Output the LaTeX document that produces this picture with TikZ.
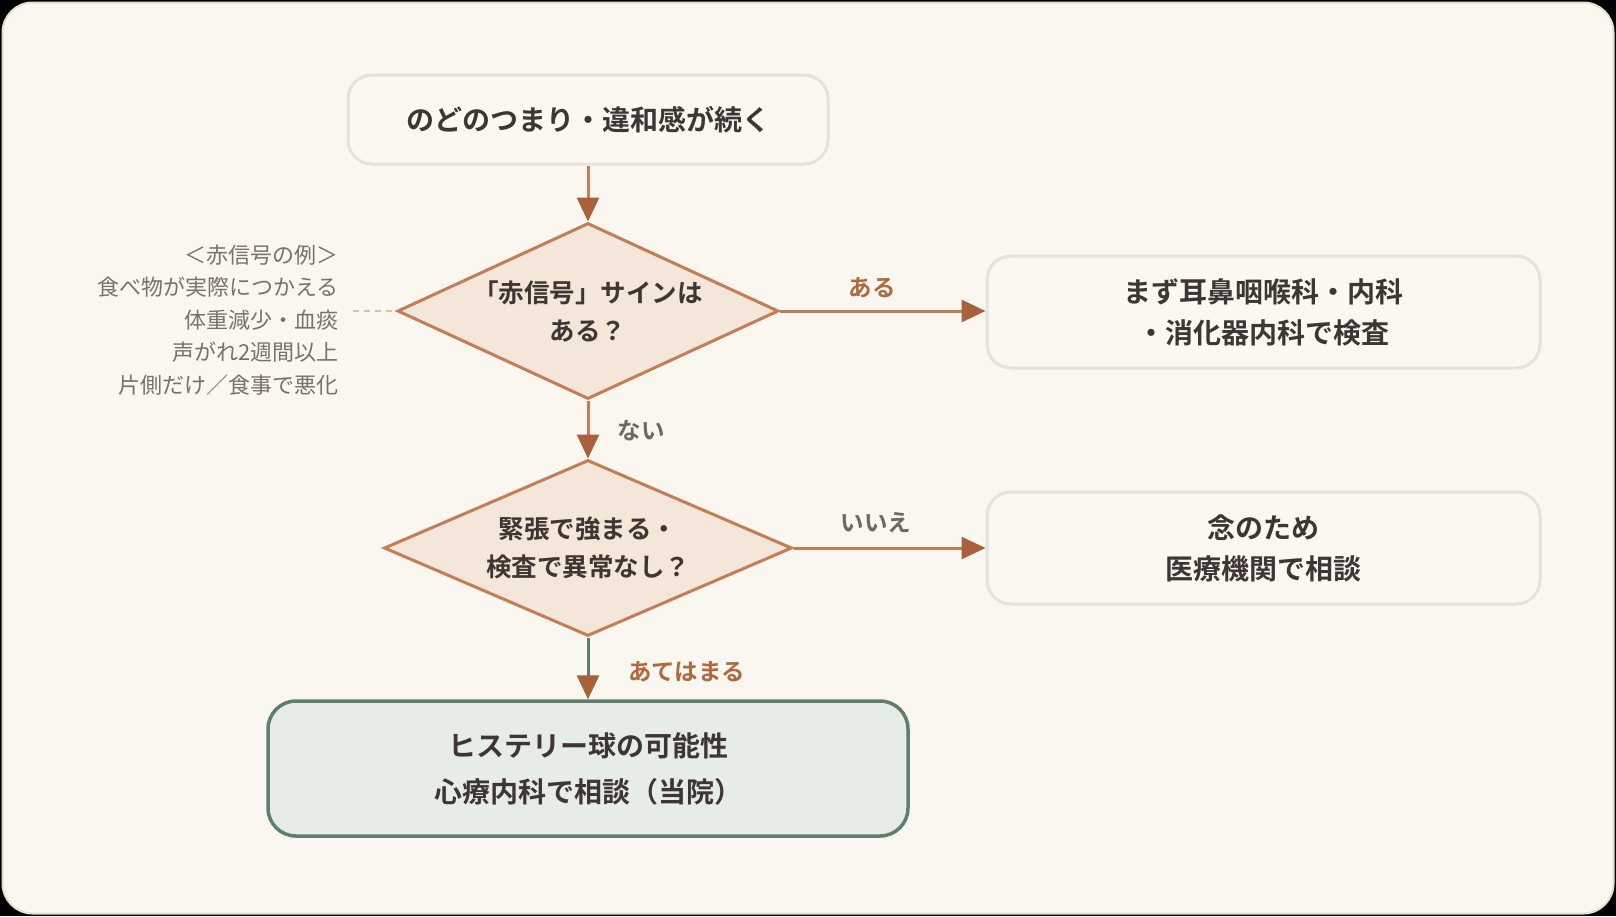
\documentclass[tikz,border=0pt]{standalone}
\usepackage{fontspec}
\setmainfont{Noto Sans CJK JP}[BoldFont={Noto Sans CJK JP Bold}]
\usetikzlibrary{shapes.geometric,arrows.meta}
\definecolor{bgc}{HTML}{FAF7F0}
\definecolor{framec}{HTML}{E8DFD0}
\definecolor{boxfill}{HTML}{FBF8F2}
\definecolor{boxline}{HTML}{EAE1D3}
\definecolor{diafill}{HTML}{F4E6D8}
\definecolor{dialine}{HTML}{C47D55}
\definecolor{linec}{HTML}{C47D55}
\definecolor{headc}{HTML}{A8613A}
\definecolor{greenfill}{HTML}{E6ECE6}
\definecolor{greenline}{HTML}{5F7E70}
\definecolor{txtc}{HTML}{3E3632}
\definecolor{grayc}{HTML}{6F6760}
\definecolor{brownc}{HTML}{B0683F}
\definecolor{notec}{HTML}{7A7169}
\definecolor{dashc}{HTML}{D5C2A8}
\tikzset{
  boxnode/.style={draw=boxline, line width=3pt, fill=boxfill, rounded corners=24pt,
    inner sep=0pt, align=center, text=txtc, font=\bfseries\fontsize{28}{41}\selectfont},
  dianode/.style={diamond, draw=dialine, fill=diafill, line width=3pt, inner sep=0pt,
    align=center, text=txtc, font=\bfseries\fontsize{25.5}{38}\selectfont},
  arr/.style={draw=linec, line width=3pt, -{Triangle[length=24pt,width=22pt,color=headc]}},
  lbl/.style={font=\bfseries\fontsize{23.5}{27}\selectfont, inner sep=0pt},
}
\begin{document}
\begin{tikzpicture}[x=1pt,y=-1pt]
\fill[black] (0,0) rectangle (1616,916);
\useasboundingbox (0,0) rectangle (1616,916);
\draw[framec, line width=2pt, fill=bgc, rounded corners=30pt] (2.5,2.5) rectangle (1613.5,913.5);

\node[boxnode, minimum width=480pt, minimum height=89pt] (top) at (588,119.5) {のどのつまり・違和感が続く};
\node[dianode, minimum width=381pt, minimum height=176pt, aspect=2.16] (d1) at (588,311) {「赤信号」サインは\\ある？};
\node[boxnode, minimum width=553pt, minimum height=112pt] (r1) at (1263.5,312) {まず耳鼻咽喉科・内科\\・消化器内科で検査};
\node[dianode, minimum width=408pt, minimum height=176pt, aspect=2.32] (d2) at (588,548) {緊張で強まる・\\検査で異常なし？};
\node[boxnode, minimum width=553pt, minimum height=112pt] (r2) at (1263.5,548) {念のため\\医療機関で相談};
\node[boxnode, draw=greenline, fill=greenfill, line width=3.5pt, rounded corners=28pt,
  minimum width=640pt, minimum height=135pt, font=\bfseries\fontsize{28}{46}\selectfont] (bot) at (588,768.5) {ヒステリー球の可能性\\心療内科で相談（当院）};

\node[anchor=east, align=right, inner sep=0pt, text=notec, font=\fontsize{22}{32.5}\selectfont] (notes) at (339,320)
  {＜赤信号の例＞\\食べ物が実際につかえる\\体重減少・血痰\\声がれ2週間以上\\片側だけ／食事で悪化};
\coordinate (dstart) at (353,311);
\draw[dashc, line width=2pt, dash pattern=on 6pt off 5pt] (dstart) -- (d1.west);

\draw[arr] (top.south) -- (d1.north);
\draw[arr] (d1.east) -- (r1.west |- d1.east);
\draw[arr] (d1.south) -- (d2.north);
\draw[arr] (d2.east) -- (r2.west |- d2.east);
\draw[arr, draw=greenline] (d2.south) -- (bot.north);

\node[lbl, text=brownc] (l1) at (872,288) {ある};
\node[lbl, text=grayc] (l2) at (641,431) {ない};
\node[lbl, text=grayc] (l3) at (876,523) {いいえ};
\node[lbl, text=brownc] (l4) at (687,672) {あてはまる};
\end{tikzpicture}
\end{document}
